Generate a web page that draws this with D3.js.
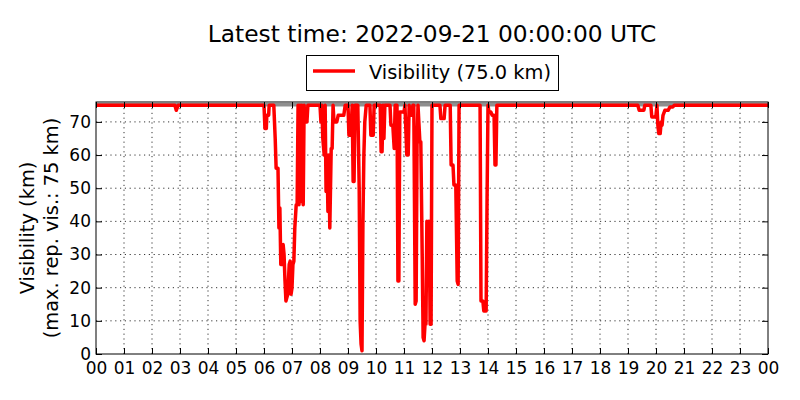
<!DOCTYPE html>
<html>
<head>
<meta charset="utf-8">
<script src="https://cdn.jsdelivr.net/npm/d3@7"></script>
<style>
	body { margin: 0; background: #fff; }
	svg { display: block; font-family: "DejaVu Sans", sans-serif; }
</style>
</head>
<body>
<div id="chart"></div>
<script>
var width = 800, height = 400;
var margin = {left: 96, right: 32, top: 102, bottom: 46};

var titleText = "Latest time: 2022-09-21 00:00:00 UTC";
var legendText = "Visibility (75.0 km)";
var yLabel = ["Visibility (km)", "(max. rep. vis.: 75 km)"];
var maxVis = 75;

var yTicks = [0, 10, 20, 30, 40, 50, 60, 70];
var xTicks = d3.range(0, 25);

// time of day (UTC) and visibility in km
var times = ["00:00", "02:49", "02:52", "02:56", "06:00", "06:02", "06:05", "06:06", "06:10", "06:11",
			"06:21", "06:24", "06:26", "06:30", "06:32", "06:34", "06:36", "06:39", "06:41", "06:43",
			"06:45", "06:47", "06:49", "06:51", "06:54", "06:56", "06:58", "07:00", "07:02", "07:04",
			"07:06", "07:09", "07:11", "07:13", "07:15", "07:17", "07:19", "07:21", "07:24", "07:26",
			"07:28", "07:32", "07:34",
			"08:00", "08:02", "08:04", "08:06", "08:09", "08:11", "08:13", "08:15", "08:17", "08:19",
			"08:21", "08:24", "08:26", "08:28", "08:30", "08:36", "08:39", "08:51", "08:54",
			"09:00", "09:02", "09:06", "09:09", "09:11", "09:13", "09:15", "09:21", "09:24", "09:26",
			"09:28", "09:30", "09:32", "09:34", "09:36", "09:39", "09:47", "09:49", "09:54", "09:56",
			"10:09", "10:11", "10:13", "10:15", "10:17", "10:19", "10:30", "10:32", "10:36", "10:39",
			"10:41", "10:45", "10:47", "10:49", "10:51", "11:00", "11:02", "11:06", "11:09", "11:11",
			"11:13", "11:17", "11:19", "11:21", "11:24", "11:26", "11:28", "11:30", "11:34", "11:36",
			"11:39", "11:41", "11:43", "11:45", "11:47", "11:49", "11:51", "11:54", "11:56", "11:58",
			"12:00", "12:17", "12:19", "12:26", "12:28", "12:39", "12:41", "12:45", "12:47", "12:51",
			"12:54", "12:56", "12:58", "13:43", "13:45", "13:49", "13:51", "13:56", "13:58", "14:00",
			"14:02", "14:06", "14:09", "14:13", "14:15", "14:17", "14:19",
			"19:21", "19:24", "19:34", "19:36", "19:49", "19:51", "19:58", "20:00", "20:02", "20:04",
			"20:06", "20:09", "20:11", "20:13", "20:15", "20:19", "20:26", "20:30", "20:36", "20:39",
			"24:00"];
var vis = [75, 75, 73.5, 75, 75, 68, 68, 72, 72, 75,
			75, 65, 56, 56, 38, 44, 27, 27, 33, 30,
			22, 16, 17, 18, 27, 28, 18, 20, 27, 28,
			38, 45, 45, 75, 45, 75, 46, 75, 45, 75,
			70, 70, 75,
			75, 70, 75, 65, 60, 75, 49, 60, 43, 60,
			38, 62, 62, 75, 70, 70, 72, 72, 75,
			75, 66, 66, 75, 52, 52, 75, 75, 50, 10,
			3, 1, 40, 60, 70, 75, 75, 66, 66, 75,
			75, 61, 61, 75, 65, 75, 75, 69, 69, 62,
			75, 75, 22, 22, 73, 73, 75, 60, 60, 75,
			72, 72, 75, 75, 15, 16, 64, 75, 64, 64,
			30, 5, 4, 9, 9, 40, 38, 40, 9, 9,
			75, 75, 71, 71, 75, 75, 57, 57, 51, 51,
			22, 21, 75, 75, 16, 16, 13, 13, 47, 75,
			73, 73, 72, 72, 57, 57, 75,
			75, 73.5, 73.5, 75, 75, 71.5, 71.5, 72, 75, 69,
			66.5, 66.5, 70, 69, 72, 73.5, 73.5, 74.5, 74.5, 75,
			75];

var data = times.map(function(t, i) {
	var p = t.split(":");
	return {h: +p[0] + p[1] / 60, v: vis[i]};
});

var svg = d3.select("#chart").append("svg")
	.attr("width", width)
	.attr("height", height);

var x = d3.scaleLinear().domain([0, 24]).range([margin.left, width - margin.right]);
var y = d3.scaleLinear().domain([0, 76]).range([height - margin.bottom, margin.top]);

// grid
svg.append("g").selectAll("line").data(xTicks.slice(1, -1)).enter().append("line")
	.attr("x1", function(d){return x(d);}).attr("x2", function(d){return x(d);})
	.attr("y1", y(0)).attr("y2", y(76))
	.attr("stroke", "#000").attr("stroke-width", 0.8).attr("stroke-dasharray", "1.2,3.6");
svg.append("g").selectAll("line").data(yTicks.slice(1)).enter().append("line")
	.attr("y1", function(d){return y(d);}).attr("y2", function(d){return y(d);})
	.attr("x1", x(0)).attr("x2", x(24))
	.attr("stroke", "#000").attr("stroke-width", 0.8).attr("stroke-dasharray", "1.2,3.6");

// max reported visibility
svg.append("line")
	.attr("x1", x(0)).attr("x2", x(24))
	.attr("y1", y(maxVis) - 0.5).attr("y2", y(maxVis) - 0.5)
	.attr("stroke", "#8f8f8f").attr("stroke-width", 3.5);

var line = d3.line()
	.x(function(d){return x(d.h);})
	.y(function(d){return y(d.v);});

svg.append("path")
	.datum(data)
	.attr("d", line)
	.attr("fill", "none")
	.attr("stroke", "#ff0000")
	.attr("stroke-width", 3.5)
	.attr("stroke-linejoin", "round");

// axes, ticks inward on every side
var fmt = function(d){return d3.format("02d")(d % 24);};

var xb = svg.append("g")
	.attr("transform", "translate(0," + y(0) + ")")
	.call(d3.axisBottom(x).tickValues(xTicks).tickFormat(fmt).tickSizeInner(-6).tickSizeOuter(0).tickPadding(8));
var xt = svg.append("g")
	.attr("transform", "translate(0," + y(76) + ")")
	.call(d3.axisTop(x).tickValues(xTicks).tickFormat("").tickSizeInner(-6).tickSizeOuter(0));
var yl = svg.append("g")
	.attr("transform", "translate(" + x(0) + ",0)")
	.call(d3.axisLeft(y).tickValues(yTicks).tickSizeInner(-6).tickSizeOuter(0).tickPadding(5));
var yr = svg.append("g")
	.attr("transform", "translate(" + x(24) + ",0)")
	.call(d3.axisRight(y).tickValues(yTicks).tickFormat("").tickSizeInner(-6).tickSizeOuter(0));

[xb, xt, yl, yr].forEach(function(g) {
	g.select(".domain").remove();
	g.selectAll("line").attr("stroke", "#000");
	g.selectAll("text")
		.attr("fill", "#000")
		.attr("font-family", "DejaVu Sans")
		.attr("font-size", 17);
});

svg.append("rect")
	.attr("x", x(0)).attr("y", y(76))
	.attr("width", x(24) - x(0)).attr("height", y(0) - y(76))
	.attr("fill", "none").attr("stroke", "#000").attr("stroke-width", 1);

// title
svg.append("text")
	.attr("x", (x(0) + x(24)) / 2)
	.attr("y", 42)
	.attr("text-anchor", "middle")
	.attr("font-size", 23.3)
	.text(titleText);

// legend
var lg = svg.append("g");
lg.append("rect")
	.attr("x", 306.5).attr("y", 55.5)
	.attr("width", 252).attr("height", 35)
	.attr("fill", "#fff").attr("stroke", "#000").attr("stroke-width", 1);
lg.append("line")
	.attr("x1", 313).attr("x2", 355)
	.attr("y1", 71).attr("y2", 71)
	.attr("stroke", "#ff0000").attr("stroke-width", 3.5);
lg.append("text")
	.attr("x", 369).attr("y", 78.5)
	.attr("font-size", 19.4)
	.text(legendText);

// y label
svg.selectAll(".ylab").data(yLabel).enter().append("text")
	.attr("class", "ylab")
	.attr("transform", function(d, i){return "translate(" + (33.5 + i * 24) + "," + ((y(0) + y(76)) / 2) + ") rotate(-90)";})
	.attr("text-anchor", "middle")
	.attr("font-size", 19.4)
	.text(function(d){return d;});
</script>
</body>
</html>
